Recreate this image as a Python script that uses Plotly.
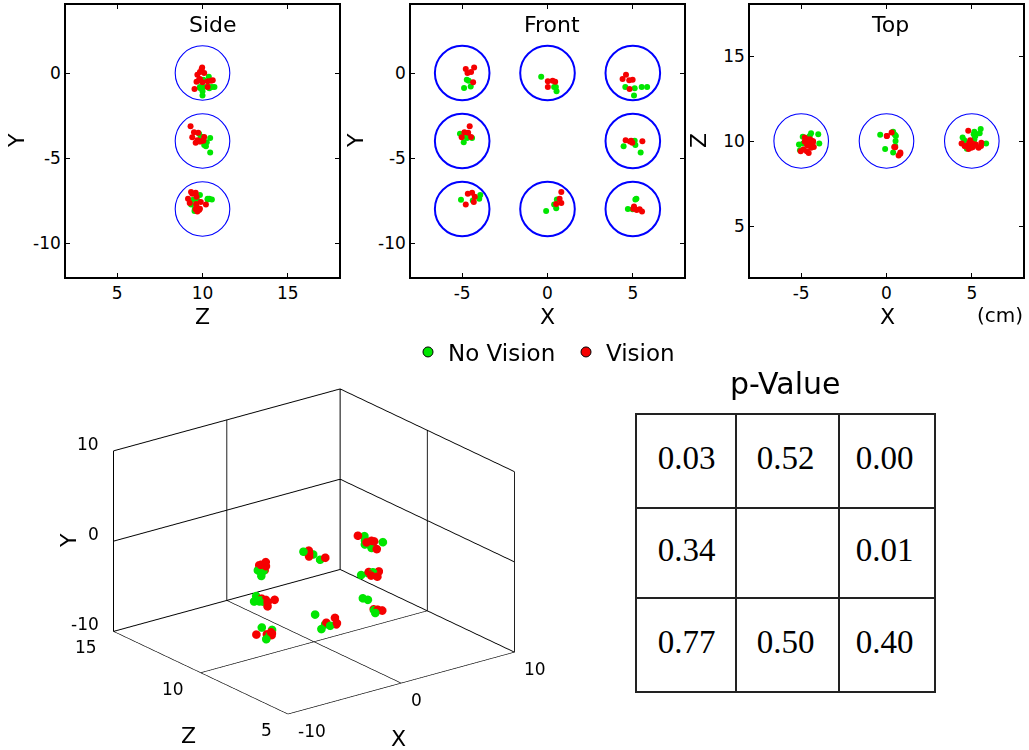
import numpy as np
import plotly.graph_objects as go

W, H = 1029, 750

# Target centres (cm)
TARGET_X = [-5, 0, 5, -5, 5, -5, 0, 5]
TARGET_Y = [0, 0, 0, -4, -4, -8, -8, -8]
TARGET_Z = [10, 10, 10, 10, 10, 10, 10, 10]
TARGET_RADIUS = 1.6

# Movement end points without vision, grouped by target
NOVIS_X = [-4.73, -4.62, -4.50, -4.89,
           -0.37, 0.49, 0.53, 0.39,
           4.56, 5.11, 5.52, 5.84, 5.07,
           -5.13, -4.75, -4.91, -4.42, -4.71,
           4.46, 5.11, 5.15, 5.46, 4.95,
           -5.07, -4.38, -3.94, -4.00,
           -0.08, 0.39, 0.55, 0.51,
           5.21, 4.71, 4.99, 5.15]
NOVIS_Y = [-0.39, -0.45, -0.80, -0.88,
           -0.22, -0.82, -1.08, -0.82,
           -0.82, -0.90, -0.82, -0.82, -1.33,
           -3.58, -3.76, -4.07, -3.82, -3.82,
           -4.31, -3.99, -4.23, -4.68, -4.01,
           -7.46, -7.50, -7.18, -7.40,
           -8.12, -7.73, -7.44, -7.96,
           -7.40, -8.00, -8.02, -7.44]
NOVIS_Z = [10.05, 9.90, 10.30, 9.85,
           10.37, 10.37, 10.00, 10.55,
           10.05, 10.40, 10.70, 9.85, 10.00,
           9.80, 10.00, 10.25, 10.45, 9.90,
           10.20, 9.95, 10.10, 10.45, 9.80,
           9.45, 9.70, 9.85, 10.40,
           9.53, 9.33, 10.30, 9.70,
           10.30, 9.55, 9.80, 10.55]

# Movement end points with vision, grouped by target
VIS_X = [-4.79, -4.69, -4.48, -4.30, -4.36,
         0.02, 0.30, 0.45, 0.02,
         4.60, 4.40, 4.79, 4.99, 4.81,
         -4.56, -4.87, -4.65, -5.03, -4.48,
         4.58, 4.83, 4.97, 5.56, 4.90,
         -4.67, -4.42, -4.26, -4.32, -4.79,
         0.81, 0.71, 0.81, 0.51,
         5.07, 5.23, 5.40, 5.54, 5.03]
VIS_Y = [0.23, 0.00, 0.06, 0.33, -0.55,
         -0.49, -0.45, -0.51, -0.82,
         -0.10, -0.35, -0.43, -0.39, -0.94,
         -3.13, -3.48, -3.52, -3.78, -3.76,
         -3.95, -4.03, -4.11, -4.01, -3.98,
         -7.10, -7.05, -7.28, -7.59, -7.73,
         -7.00, -7.40, -7.65, -7.71,
         -7.85, -8.06, -8.02, -8.14, -7.98]
VIS_Z = [9.95, 10.10, 9.85, 9.98, 10.00,
         10.30, 10.50, 9.65, 10.30,
         9.70, 9.85, 10.60, 9.80, 9.53,
         9.30, 9.50, 9.75, 9.40, 10.10,
         9.70, 9.85, 9.60, 9.90, 10.05,
         9.40, 9.60, 9.65, 9.90, 10.20,
         9.33, 9.15, 9.25, 9.63,
         9.65, 9.80, 9.60, 9.70, 9.85]

# p-values per target, laid out as seen from the front (None = no target)
P_VALUES = [[0.03, 0.52, 0.00],
            [0.34, None, 0.01],
            [0.77, 0.50, 0.40]]

# Axis ticks
XY_TICKS_2D = [-10, -5, 0]
X_TICKS_2D = [-5, 0, 5]
Z_TICKS_2D = [5, 10, 15]
X_TICKS_3D = [-10, 0, 10]
Y_TICKS_3D = [-10, 0, 10]
Z_TICKS_3D = [5, 10, 15]

GREEN = "rgb(0,230,0)"
RED = "rgb(245,0,0)"
BLUE = "rgb(0,0,255)"
FONT = "DejaVu Sans, Verdana, sans-serif"


def fx(p):
    return p / W


def fy(p):
    return 1 - p / H


def tick_text(vals):
    # plain hyphen-minus for negative labels
    return [f"{v:g}" for v in vals]


fig = go.Figure()

# ---- three orthogonal projections -------------------------------------
views = [
    # (axis suffix, horizontal data, vertical data)
    ("", "z", "y"),   # Side: Z vs Y
    ("2", "x", "y"),  # Front: X vs Y
    ("3", "x", "z"),  # Top: X vs Z
]
novis = {"x": NOVIS_X, "y": NOVIS_Y, "z": NOVIS_Z}
vis = {"x": VIS_X, "y": VIS_Y, "z": VIS_Z}
targets = {"x": TARGET_X, "y": TARGET_Y, "z": TARGET_Z}

shapes = []
for suffix, hk, vk in views:
    xa, ya = "x" + suffix, "y" + suffix
    fig.add_trace(go.Scatter(x=novis[hk], y=novis[vk], mode="markers",
                             marker=dict(color=GREEN, size=6),
                             xaxis=xa, yaxis=ya, showlegend=False))
    fig.add_trace(go.Scatter(x=vis[hk], y=vis[vk], mode="markers",
                             marker=dict(color=RED, size=6),
                             xaxis=xa, yaxis=ya, showlegend=False))
    centres = sorted(set(zip(targets[hk], targets[vk])))
    lw = 2 if suffix == "2" else 1.1
    for cx, cy in centres:
        shapes.append(dict(type="circle", xref=xa, yref=ya,
                           x0=cx - TARGET_RADIUS, x1=cx + TARGET_RADIUS,
                           y0=cy - TARGET_RADIUS, y1=cy + TARGET_RADIUS,
                           line=dict(color=BLUE, width=lw), layer="below"))

# legend proxies
fig.add_trace(go.Scatter(x=[None], y=[None], mode="markers", name="No Vision",
                         marker=dict(color=GREEN, size=10, line=dict(color="black", width=1))))
fig.add_trace(go.Scatter(x=[None], y=[None], mode="markers", name="Vision",
                         marker=dict(color=RED, size=10, line=dict(color="black", width=1))))

# ---- 3D view -----------------------------------------------------------
fig.add_trace(go.Scatter3d(x=NOVIS_X, y=NOVIS_Z, z=NOVIS_Y, mode="markers",
                           marker=dict(color=GREEN, size=5, line=dict(width=0)),
                           showlegend=False, scene="scene"))
fig.add_trace(go.Scatter3d(x=VIS_X, y=VIS_Z, z=VIS_Y, mode="markers",
                           marker=dict(color=RED, size=5, line=dict(width=0)),
                           showlegend=False, scene="scene"))

# ---- p-value table -----------------------------------------------------
tx, ty, tt = [], [], []
for r, row in enumerate(P_VALUES):
    for c, v in enumerate(row):
        if v is not None:
            tx.append(c + 1)
            ty.append(r + 1)
            tt.append(f"{v:.2f}")
fig.add_trace(go.Scatter(x=tx, y=ty, text=tt, mode="text",
                         textfont=dict(family="Liberation Serif, Times New Roman, serif",
                                       size=33, color="black"),
                         xaxis="x4", yaxis="y4", showlegend=False))

# ---- layout ------------------------------------------------------------
frame = dict(showline=True, linecolor="black", linewidth=1.5, mirror="allticks",
             ticks="inside", ticklen=4, tickwidth=1, tickcolor="black",
             showgrid=False, zeroline=False,
             tickfont=dict(family=FONT, size=17, color="black"))
ytop, ybot = fy(5), fy(277)
table_axis = dict(showticklabels=False, ticks="", showgrid=True, gridcolor="#222",
                  gridwidth=1.5, showline=True, mirror=True, linecolor="#222",
                  linewidth=1.5, zeroline=False)

layout = dict(
    width=W, height=H, margin=dict(l=0, r=0, t=0, b=0),
    paper_bgcolor="white", plot_bgcolor="white",
    font=dict(family=FONT, color="black"),
    xaxis=dict(frame, domain=[fx(66), fx(339)], range=[2, 18], tickvals=Z_TICKS_2D,
               ticktext=tick_text(Z_TICKS_2D), anchor="y"),
    yaxis=dict(frame, domain=[ybot, ytop], range=[-12, 4], tickvals=XY_TICKS_2D,
               ticktext=tick_text(XY_TICKS_2D), anchor="x"),
    xaxis2=dict(frame, domain=[fx(411), fx(684)], range=[-8, 8], tickvals=X_TICKS_2D,
                ticktext=tick_text(X_TICKS_2D), anchor="y2"),
    yaxis2=dict(frame, domain=[ybot, ytop], range=[-12, 4], tickvals=XY_TICKS_2D,
                ticktext=tick_text(XY_TICKS_2D), anchor="x2"),
    xaxis3=dict(frame, domain=[fx(750), fx(1023)], range=[-8, 8], tickvals=X_TICKS_2D,
                ticktext=tick_text(X_TICKS_2D), anchor="y3"),
    yaxis3=dict(frame, domain=[ybot, ytop], range=[2, 18], tickvals=Z_TICKS_2D,
                ticktext=tick_text(Z_TICKS_2D), anchor="x3"),
    xaxis4=dict(table_axis, domain=[fx(637), fx(934)], range=[0.5, 3.5],
                tickvals=[1.5, 2.54], anchor="y4"),
    yaxis4=dict(table_axis, domain=[fy(691), fy(415)], range=[3.5, 0.5],
                tickvals=[1.51, 2.49], anchor="x4"),
    shapes=shapes,
    showlegend=True,
    legend=dict(orientation="h", x=fx(408), y=fy(352), xanchor="left", yanchor="middle",
                font=dict(family=FONT, size=23), bgcolor="rgba(0,0,0,0)",
                entrywidth=113, itemclick=False, itemdoubleclick=False),
)

axis3d = dict(showbackground=False, showgrid=True, gridcolor="black", gridwidth=2,
              zeroline=False, showline=False, showspikes=False, showticklabels=False,
              ticks="", title=dict(text=""))
eye_dir = np.array([-0.564, -0.743, 0.360])
eye = eye_dir * 2.0

# upright tick labels placed at the tick positions of the 3D box
tick_font = dict(family=FONT, size=17, color="black")
scene_ann = []
for v in Y_TICKS_3D:
    scene_ann.append(dict(x=-10, y=15, z=v, text=f"{v:g}", showarrow=False,
                          xanchor="right", yanchor="middle", xshift=-12, yshift=7,
                          font=tick_font))
for v in Z_TICKS_3D:
    scene_ann.append(dict(x=-10, y=v, z=-10, text=f"{v:g}", showarrow=False,
                          xanchor="right", yanchor="middle", xshift=-14, yshift=-16,
                          font=tick_font))
for v in X_TICKS_3D:
    scene_ann.append(dict(x=v, y=5, z=-10, text=f"{v:g}", showarrow=False,
                          xanchor="left", yanchor="middle", xshift=8, yshift=-17,
                          font=tick_font))

layout["scene"] = dict(
    domain=dict(x=[0.057, 0.553], y=[0.0069, 0.5226]),
    xaxis=dict(axis3d, range=[-10, 10], tickvals=X_TICKS_3D),
    yaxis=dict(axis3d, range=[5, 15], tickvals=Z_TICKS_3D),
    zaxis=dict(axis3d, range=[-10, 10], tickvals=Y_TICKS_3D),
    aspectmode="manual", aspectratio=dict(x=1.47, y=1.49, z=1.0),
    camera=dict(eye=dict(x=eye[0], y=eye[1], z=eye[2]), center=dict(x=0, y=0, z=0),
                up=dict(x=0, y=0, z=1), projection=dict(type="orthographic")),
    bgcolor="white",
    annotations=scene_ann,
)

ann = []


def label(text, x, y, size=22, angle=0):
    ann.append(dict(text=text, x=fx(x), y=fy(y), xref="paper", yref="paper",
                    showarrow=False, textangle=angle, xanchor="center", yanchor="middle",
                    font=dict(family=FONT, size=size, color="black")))


label("Side", 213, 25, 22)
label("Front", 552, 25, 22)
label("Top", 890, 25, 22)
label("Z", 202, 316)
label("X", 547, 316)
label("X", 887, 316)
label("Y", 17, 141, angle=-90)
label("Y", 356, 141, angle=-90)
label("Z", 699, 141, angle=-90)
label("(cm)", 1000, 315, 20)
label("p-Value", 785, 383, 30)
label("Y", 68, 541, angle=-90)
label("Z", 188, 735)
label("X", 398, 738)
layout["annotations"] = ann

fig.update_layout(layout)
fig.write_html("out.html")
